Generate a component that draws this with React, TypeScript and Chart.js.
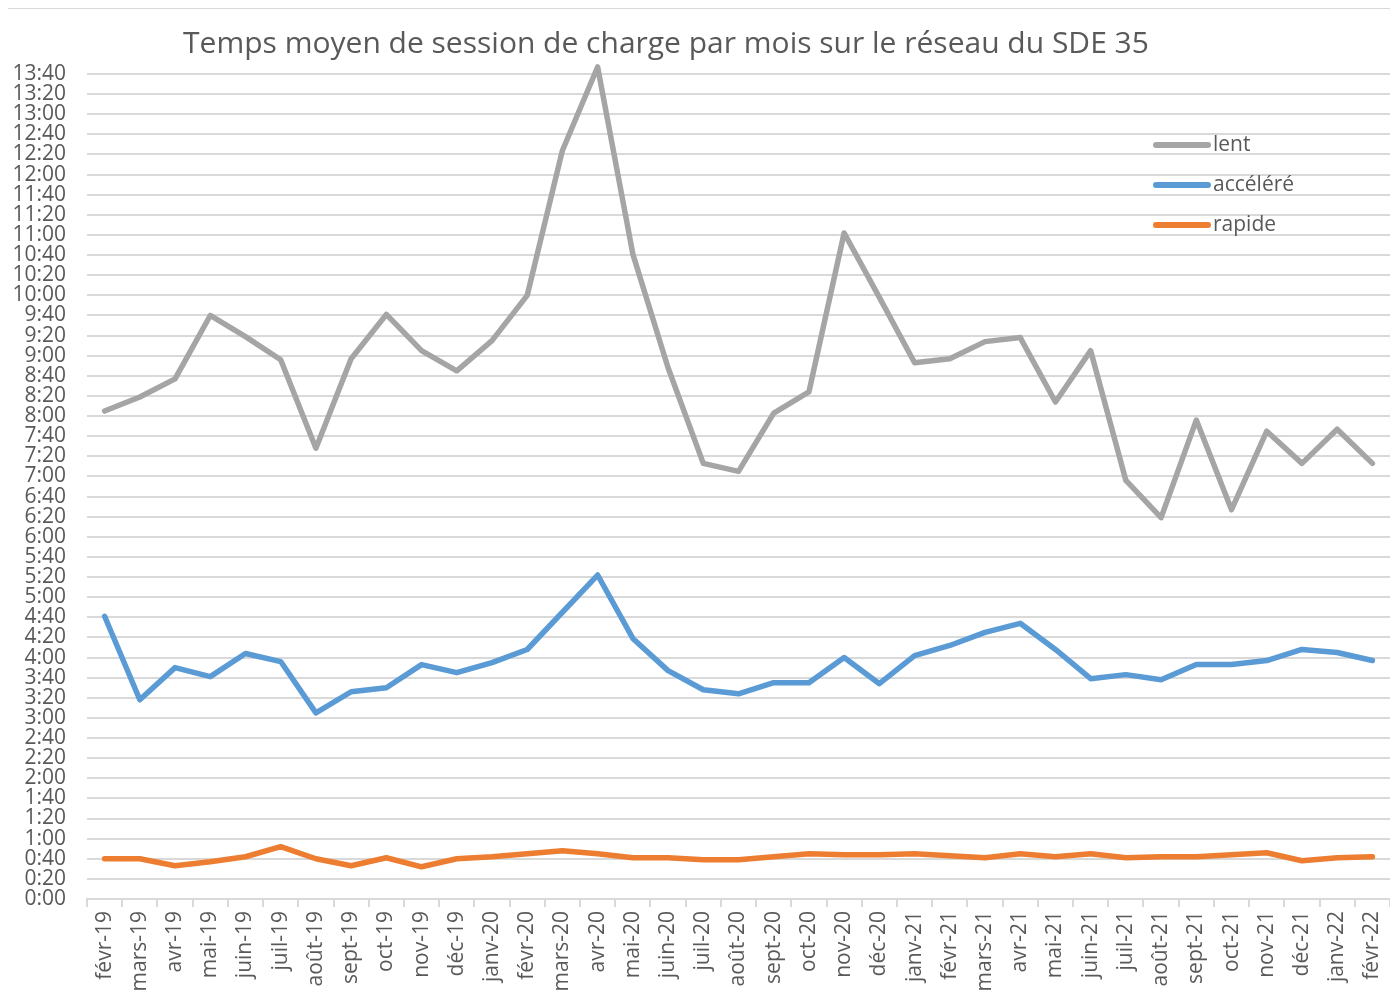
import React, { useEffect, useRef } from 'react';
import { Chart, registerables } from 'chart.js';

Chart.register(...registerables);

const TITLE = 'Temps moyen de session de charge par mois sur le réseau du SDE 35';

const months = [
  'févr-19', 'mars-19', 'avr-19', 'mai-19', 'juin-19', 'juil-19', 'août-19', 'sept-19', 'oct-19', 'nov-19', 'déc-19',
  'janv-20', 'févr-20', 'mars-20', 'avr-20', 'mai-20', 'juin-20', 'juil-20', 'août-20', 'sept-20', 'oct-20', 'nov-20', 'déc-20',
  'janv-21', 'févr-21', 'mars-21', 'avr-21', 'mai-21', 'juin-21', 'juil-21', 'août-21', 'sept-21', 'oct-21', 'nov-21', 'déc-21',
  'janv-22', 'févr-22',
];

// values in minutes
const lent = [
  485, 499, 517, 580, 559, 536, 448, 537, 581, 545, 525,
  555, 600, 744, 827, 641, 528, 433, 425, 483, 504, 662, 598,
  533, 537, 554, 558, 494, 545, 416, 379, 476, 387, 465, 433,
  467, 433,
];

const accelere = [
  281, 198, 230, 221, 244, 236, 185, 206, 210, 233, 225,
  235, 248, 285, 322, 259, 227, 208, 204, 215, 215, 240, 214,
  242, 252, 265, 274, 248, 219, 223, 218, 233, 233, 237, 248,
  245, 237,
];

const rapide = [
  40, 40, 33, 37, 42, 52, 40, 33, 41, 32, 40,
  42, 45, 48, 45, 41, 41, 39, 39, 42, 45, 44, 44,
  45, 43, 41, 45, 42, 45, 41, 42, 42, 44, 46, 38,
  41, 42,
];

const seriesNames = ['lent', 'accéléré', 'rapide'];
const seriesColors = ['#A5A5A5', '#5B9BD5', '#ED7D31'];

const Y_MIN = 0;
const Y_MAX = 820;
const Y_STEP = 20;

const FONT = '"Open Sans", "DejaVu Sans", sans-serif';
const TEXT = '#595959';
const GRID = '#d9d9d9';

function fmt(v: number): string {
  const h = Math.floor(v / 60);
  const m = Math.round(v - h * 60);
  return `${h}:${String(m).padStart(2, '0')}`;
}

const titlePlugin = {
  id: 'customTitle',
  afterDraw(chart: any) {
    const ctx = chart.ctx;
    ctx.save();
    ctx.font = `30px ${FONT}`;
    ctx.fillStyle = TEXT;
    ctx.textAlign = 'center';
    ctx.textBaseline = 'middle';
    ctx.fillText(TITLE, 658, 35);
    ctx.restore();
  },
};

const legendPlugin = {
  id: 'customLegend',
  afterDraw(chart: any) {
    const ctx = chart.ctx;
    ctx.save();
    chart.data.datasets.forEach((ds: any, i: number) => {
      const y = 136 + i * 40;
      ctx.strokeStyle = ds.borderColor;
      ctx.lineWidth = 6;
      ctx.lineCap = 'round';
      ctx.beginPath();
      ctx.moveTo(1148, y);
      ctx.lineTo(1200, y);
      ctx.stroke();
      ctx.font = `21px ${FONT}`;
      ctx.fillStyle = TEXT;
      ctx.textAlign = 'left';
      ctx.textBaseline = 'middle';
      ctx.fillText(ds.label, 1205, y);
    });
    ctx.restore();
  },
};

export default function App() {
  const ref = useRef<HTMLCanvasElement | null>(null);

  useEffect(() => {
    document.body.style.overflow = 'hidden';
    if (!ref.current) return;
    const data = [lent, accelere, rapide];
    const chart = new Chart(ref.current, {
      type: 'line',
      data: {
        labels: months,
        datasets: data.map((d, i) => ({
          label: seriesNames[i],
          data: d,
          borderColor: seriesColors[i],
          backgroundColor: seriesColors[i],
          borderWidth: 5.5,
          pointRadius: 0,
          tension: 0,
          borderJoinStyle: 'round' as const,
          borderCapStyle: 'round' as const,
          clip: false as any,
        })),
      },
      options: {
        responsive: false,
        animation: false,
        devicePixelRatio: 1,
        layout: { padding: { top: 65, right: 0, left: 0, bottom: 0 } },
        plugins: {
          legend: { display: false },
          title: { display: false },
          tooltip: { enabled: false },
        },
        scales: {
          x: {
            offset: true,
            grid: {
              offset: true,
              drawOnChartArea: false,
              drawTicks: true,
              tickLength: 8,
              color: GRID,
              lineWidth: 2,
            },
            border: { display: true, color: GRID, width: 2 },
            ticks: {
              autoSkip: false,
              minRotation: 90,
              maxRotation: 90,
              padding: 4,
              color: TEXT,
              font: { family: FONT, size: 21 },
            },
            afterFit(scale: any) {
              scale.height = 96;
              scale.paddingLeft = 0;
              scale.paddingRight = 0;
            },
          },
          y: {
            min: Y_MIN,
            max: Y_MAX,
            grid: {
              drawTicks: false,
              color: GRID,
              lineWidth: 2,
            },
            border: { display: false },
            ticks: {
              stepSize: Y_STEP,
              autoSkip: false,
              padding: 21,
              color: TEXT,
              font: { family: FONT, size: 21 },
              callback: (v: any) => fmt(Number(v)),
            },
            afterFit(scale: any) {
              scale.width = 79;
              scale.paddingTop = 0;
              scale.paddingBottom = 0;
            },
          },
        },
      },
      plugins: [titlePlugin, legendPlugin],
    });
    return () => chart.destroy();
  }, []);

  return (
    <div
      style={{
        width: 1384,
        height: 1010,
        boxSizing: 'border-box',
        border: '1px solid #d9d9d9',
        marginLeft: -1,
        background: '#ffffff',
        overflow: 'hidden',
      }}
    >
      <canvas ref={ref} width={1382} height={986} style={{ display: 'block', width: 1382, height: 986 }} />
    </div>
  );
}
